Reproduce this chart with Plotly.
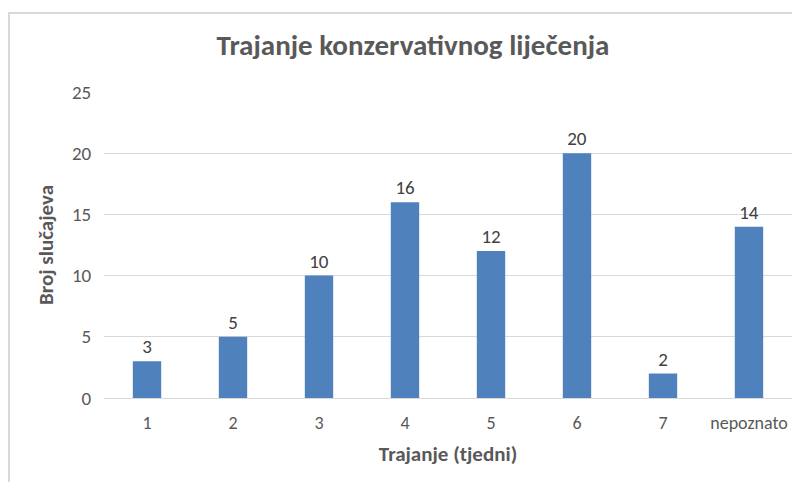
import plotly.graph_objects as go

categories = ["1", "2", "3", "4", "5", "6", "7", "nepoznato"]
values = [3, 5, 10, 16, 12, 20, 2, 14]
y_ticks = [0, 5, 10, 15, 20, 25]

title_text = "Trajanje konzervativnog liječenja"
x_title = "Trajanje (tjedni)"
y_title = "Broj slučajeva"

FONT = "Carlito, Liberation Sans Narrow, Open Sans, sans-serif"
OFF = 8  # page body margin
W, H = 800 - OFF, 482 - OFF
# plot area in screen pixels: x 104..792, y 92..398
L = 104 - OFF
R = W - (792 - OFF)
T = 92 - OFF
B = H - (398 - OFF)
pw, ph = W - L - R, H - T - B

fig = go.Figure(go.Bar(
    x=categories, y=values,
    marker=dict(color="#4F81BD", line=dict(width=0)),
    text=values, textposition="outside", cliponaxis=False,
    textfont=dict(family=FONT, size=19, color="#404040"),
))

def px_x(p):
    return (p - OFF - L) / pw

def px_y(p):
    return (H - B - (p - OFF)) / ph

fig.update_layout(
    width=W, height=H,
    margin=dict(l=L, r=R, t=T, b=B),
    paper_bgcolor="white", plot_bgcolor="white",
    bargap=0.67,
    showlegend=False,
    title=dict(text="<b>" + title_text + "</b>", x=(413 - OFF) / W, xref="container", xanchor="center",
               y=1 - (45 - OFF) / H, yanchor="middle",
               font=dict(family=FONT, size=29, color="#595959")),
    font=dict(family=FONT, color="#595959"),
    xaxis=dict(
        type="category",
        showgrid=False, showline=False,
        ticks="outside", ticklen=8, tickcolor="rgba(0,0,0,0)",
        tickfont=dict(family=FONT, size=18, color="#595959"),
        title=dict(text="<b>" + x_title + "</b>", font=dict(family=FONT, size=21, color="#595959"),
                   standoff=13),
    ),
    yaxis=dict(
        range=[0, 25], tickvals=y_ticks,
        showgrid=True, gridcolor="#D9D9D9", gridwidth=1,
        zeroline=True, zerolinecolor="#D9D9D9", zerolinewidth=1,
        showline=False,
        ticks="outside", ticklen=8, tickcolor="rgba(0,0,0,0)",
        tickfont=dict(family=FONT, size=19, color="#595959"),
        title=dict(text="<b>" + y_title + "</b>", font=dict(family=FONT, size=21, color="#595959"),
                   standoff=12),
    ),
    shapes=[
        dict(type="line", xref="paper", yref="paper",
             x0=px_x(9), x1=px_x(9), y0=px_y(13), y1=px_y(490),
             line=dict(color="#D9D9D9", width=2)),
        dict(type="line", xref="paper", yref="paper",
             x0=px_x(8), x1=px_x(805), y0=px_y(13), y1=px_y(13),
             line=dict(color="#D9D9D9", width=2)),
    ],
)

fig.write_html("out.html")
